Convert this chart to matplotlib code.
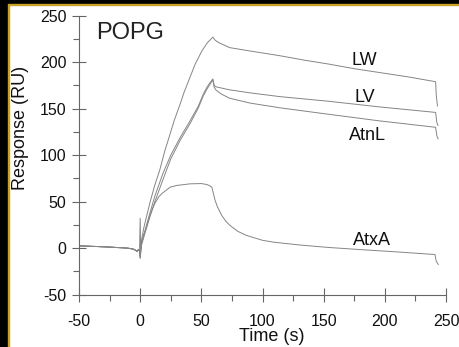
import matplotlib
matplotlib.use("Agg")
import matplotlib.pyplot as plt
from matplotlib.patches import Rectangle

# pre-injection baseline, shared by all four sensorgrams
BASE_T = [-50, -45, -40, -35, -30, -25, -20, -15, -10, -6, -4, -2.5, -1.5, -0.5]
BASE_Y = [2.5, 2.3, 2.0, 1.8, 1.5, 1.2, 0.8, 0.5, 0.0, -0.8, -2.0, -3.5, -1.5, -3.0]

LW_T = [0, 0.4, 1, 3, 5, 8, 12, 16, 20, 24.5, 28, 32.7, 36, 40.8, 45, 50.4, 55, 59.5,
        61, 63, 66, 73, 90, 114, 135, 154, 175, 195, 220, 241.5, 242, 243]
LW_Y = [32, 0, 8, 22, 33, 49, 68, 84, 104, 123, 138, 155, 168, 184, 198, 212, 221, 227,
        224, 222, 220, 215.7, 212, 207, 202, 198, 193, 189, 184, 179, 165, 153]

LV_T = [0, 1, 3, 5, 8, 12, 18.5, 25, 32.7, 40.8, 47.6, 51.7, 55, 59.4,
        60.5, 62, 73, 90, 114, 154, 195, 241.5, 242.5, 243.5]
LV_Y = [-10, 4, 14, 24, 38, 56, 80, 100, 119, 137, 153, 166, 174, 182,
        175, 173.5, 170.3, 167, 163, 158, 152, 146, 135, 132]

ATNL_T = [0, 1, 3, 5, 8, 12, 20.4, 25, 32.7, 40.8, 47.6, 51.7, 55, 59.4,
          60.5, 62, 66, 73, 90, 114, 154, 195, 241.5, 242.5, 243.5]
ATNL_Y = [-11, 3, 12, 21, 34, 50, 80, 96, 116, 134, 151, 164, 172, 181,
          173, 170, 166, 161.3, 156, 151, 144, 137, 130, 121, 117.6]

ATXA_T = [0, 1, 3, 5, 8, 10, 12, 15, 18, 24.5, 30, 40.8, 50, 54.5, 57, 58.6,
          60, 61.3, 63, 66.7, 70, 73.5, 80, 87, 100, 109, 130, 154, 180, 209, 241, 242, 243.7]
ATXA_Y = [-9, 5, 15, 22, 35, 42, 48, 55, 59, 65.6, 67.5, 69.2, 69.5, 68.5, 67, 65.6,
          58, 51.3, 45, 35.2, 29, 24.4, 18, 13.7, 8.5, 6.5, 3.5, 0.8, -1.5, -3.9, -6.8, -14, -17.5]

CURVES = {
    "LW": (LW_T, LW_Y),
    "LV": (LV_T, LV_Y),
    "AtnL": (ATNL_T, ATNL_Y),
    "AtxA": (ATXA_T, ATXA_Y),
}
# label positions in data units (time, response)
LABEL_POS = {"LW": (183, 202), "LV": (184, 162), "AtnL": (185.5, 121), "AtxA": (189.5, 8.3)}

if __name__ == "__main__":
    plt.rcParams["font.family"] = ["Liberation Sans", "DejaVu Sans"]
    plt.rcParams["axes.unicode_minus"] = False

    fig = plt.figure(figsize=(4.59, 3.47), dpi=100, facecolor="white")
    ax = fig.add_axes([0.1721, 0.1507, 0.7996, 0.8041])

    line_color = "#858585"
    for name, (t, y) in CURVES.items():
        ax.plot(BASE_T + t, BASE_Y + y, color=line_color, linewidth=0.7)
        lx, ly = LABEL_POS[name]
        ax.text(lx, ly, name, fontsize=13, ha="center", va="center", color="#111111")

    ax.text(-36, 243, "POPG", fontsize=17, ha="left", va="top", color="#222222")

    ax.set_xlim(-50, 250)
    ax.set_ylim(-50, 250)
    ax.set_xticks(range(-50, 251, 50))
    ax.set_yticks(range(-50, 251, 50))
    ax.set_xticks(range(-25, 250, 50), minor=True)
    ax.set_yticks(range(-25, 250, 50), minor=True)

    for side in ["top", "right"]:
        ax.spines[side].set_visible(False)
    for side in ["left", "bottom"]:
        ax.spines[side].set_color("#666666")
        ax.spines[side].set_linewidth(0.8)

    ax.tick_params(which="major", direction="inout", length=10, width=0.8,
                   color="#666666", labelsize=11.5, labelcolor="#111111")
    ax.tick_params(axis="x", which="major", pad=9)
    ax.tick_params(axis="y", which="major", pad=4)
    ax.tick_params(which="minor", direction="out", length=4, width=0.8, color="#666666")

    ax.set_xlabel("Time (s)", fontsize=13, color="#111111")
    ax.set_ylabel("Response (RU)", fontsize=13, color="#111111")
    ax.xaxis.set_label_coords(0.526, -0.12)
    ax.yaxis.set_label_coords(-0.137, 0.597)

    # dark frame along top and left edges
    fig.add_artist(Rectangle((0, 1 - 4 / 347), 1, 4 / 347, transform=fig.transFigure,
                             color="black", zorder=10))
    fig.add_artist(Rectangle((0, 1 - 5 / 347), 1, 1.2 / 347, transform=fig.transFigure,
                             color="#c9a227", zorder=10))
    fig.add_artist(Rectangle((0, 0), 8 / 459, 1, transform=fig.transFigure,
                             color="black", zorder=11))
    fig.add_artist(Rectangle((8 / 459, 0), 1.2 / 459, 1 - 4 / 347, transform=fig.transFigure,
                             color="#c9a227", zorder=11))

    fig.savefig("out.png", dpi=100, facecolor="white")
